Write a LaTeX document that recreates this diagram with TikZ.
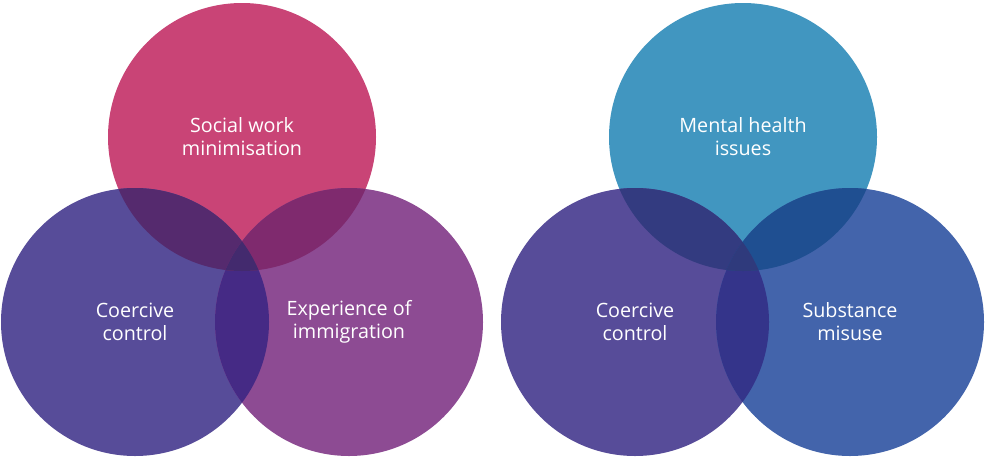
\documentclass[tikz,border=0pt]{standalone}
\usepackage{fontspec}
\setmainfont{Open Sans}
\usepackage{tikz}
\definecolor{socialpink}{HTML}{C94476}
\definecolor{coercivepurple}{HTML}{574C99}
\definecolor{immigrationplum}{HTML}{8D4B93}
\definecolor{mentalblue}{HTML}{4196C0}
\definecolor{substanceblue}{HTML}{4364AB}
\definecolor{lapA}{HTML}{552A6E}
\definecolor{lapB}{HTML}{7F2A6E}
\definecolor{lapC}{HTML}{452A85}
\definecolor{lapD}{HTML}{432A6E}
\definecolor{lapE}{HTML}{333B80}
\definecolor{lapF}{HTML}{1F4F91}
\definecolor{lapG}{HTML}{34348A}
\definecolor{lapH}{HTML}{2F3A7C}

\begin{document}
\begin{tikzpicture}[x=0.75pt, y=-0.75pt, blob/.style={circle, draw=none, minimum size=201pt, inner sep=0pt, align=center, text=white, font=\fontsize{14.8}{17.3}\selectfont}]
    \useasboundingbox (0,0) rectangle (985,461);
    \def\rad{100.5pt}

    %Circles
    \node[blob, fill=socialpink](social) at (242,137){Social work\\minimisation};
    \node[blob, fill=coercivepurple](coerciveL) at (135,322){Coercive\\control};
    \node[blob, fill=immigrationplum](immigration) at (349,322){Experience of\\immigration};
    \node[blob, fill=mentalblue](mental) at (743,137){Mental health\\issues};
    \node[blob, fill=coercivepurple](coerciveR) at (635,322){Coercive\\control};
    \node[blob, fill=substanceblue](substance) at (850,322){Substance\\misuse};

    %Overlaps
    \begin{scope}
        \clip (coerciveL.center) circle (\rad);
        \fill[lapC] (immigration.center) circle (\rad);
    \end{scope}
    \begin{scope}
        \clip (social.center) circle (\rad);
        \fill[lapA] (coerciveL.center) circle (\rad);
        \fill[lapB] (immigration.center) circle (\rad);
        \clip (coerciveL.center) circle (\rad);
        \fill[lapD] (immigration.center) circle (\rad);
    \end{scope}
    \begin{scope}
        \clip (coerciveR.center) circle (\rad);
        \fill[lapG] (substance.center) circle (\rad);
    \end{scope}
    \begin{scope}
        \clip (mental.center) circle (\rad);
        \fill[lapE] (coerciveR.center) circle (\rad);
        \fill[lapF] (substance.center) circle (\rad);
        \clip (coerciveR.center) circle (\rad);
        \fill[lapH] (substance.center) circle (\rad);
    \end{scope}

\end{tikzpicture}
\end{document}
